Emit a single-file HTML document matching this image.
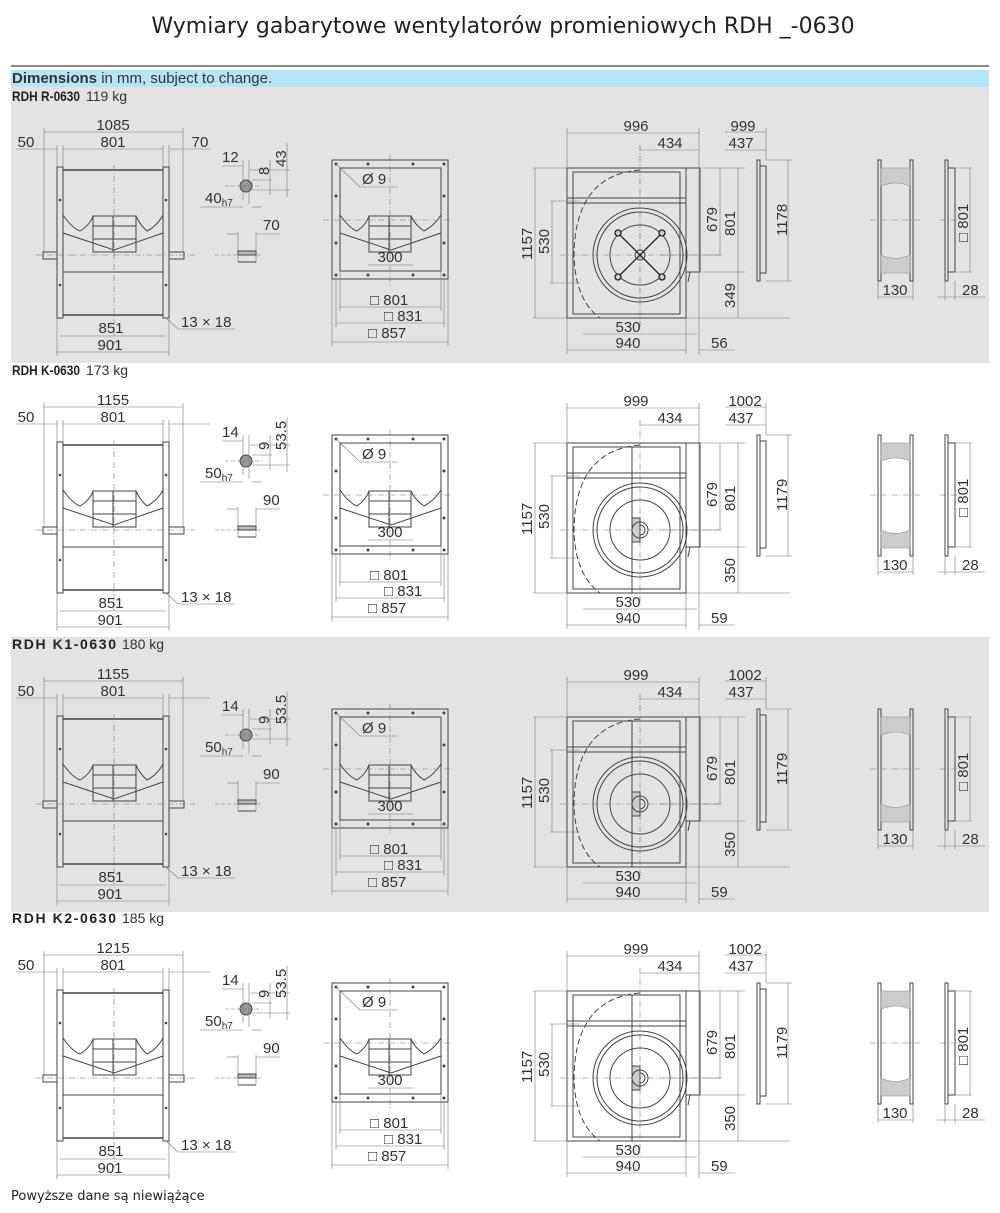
<!DOCTYPE html>
<html><head><meta charset="utf-8"><style>
body{margin:0;background:#fff;width:1000px;height:1213px;overflow:hidden;font-family:"Liberation Sans",sans-serif}
svg{position:absolute;left:0;top:0}
text{font-family:"Liberation Sans",sans-serif;fill:#333;font-size:15px}
.lb{font-size:14px;font-weight:bold;fill:#222}
.wt{font-size:14px}
</style></head><body>
<svg width="1000" height="1213" viewBox="0 0 1000 1213">
<defs>
<g id="dwg" fill="none" stroke="#444" stroke-width="1">
 <rect x="57" y="167" width="6" height="151"/>
 <rect x="163" y="167" width="6" height="151"/>
 <line x1="63" y1="170" x2="163" y2="170" stroke-width="1.5"/>
 <line x1="63" y1="315" x2="163" y2="315" stroke-width="1.5"/>
 <line x1="63" y1="272" x2="163" y2="272"/>
 <rect x="43" y="252" width="14" height="7"/>
 <rect x="169" y="252" width="15" height="7"/>
 <path d="M63 215 Q72 228 80 231 Q90 225 93 216 L136 216 Q140 225 147 231 Q157 226 163 215"/>
 <path d="M63 233 L114 250 L163 233"/>
 <rect x="93" y="216" width="20" height="36"/><rect x="113" y="216" width="23" height="36"/>
 <line x1="93" y1="226" x2="136" y2="226"/><line x1="93" y1="239" x2="136" y2="239"/>
 <g stroke="#777" stroke-width="0.6">
  <line x1="114" y1="165" x2="114" y2="345" stroke-dasharray="6,2,1,2"/>
  <line x1="36" y1="255" x2="195" y2="255" stroke-dasharray="6,2,1,2"/>
  <line x1="44" y1="132" x2="183" y2="132"/><line x1="44" y1="128" x2="44" y2="252"/><line x1="183" y1="128" x2="183" y2="252"/>
  <line x1="63" y1="149" x2="163" y2="149"/><line x1="63" y1="145" x2="63" y2="167"/><line x1="163" y1="145" x2="163" y2="167"/>
  <line x1="16" y1="149" x2="57" y2="149"/><line x1="57" y1="145" x2="57" y2="167"/>
  <line x1="169" y1="149" x2="210" y2="149"/><line x1="169" y1="145" x2="169" y2="167"/>
  <line x1="60" y1="336" x2="166" y2="336"/><line x1="57" y1="352" x2="169" y2="352"/>
  <line x1="57" y1="318" x2="57" y2="356"/><line x1="169" y1="318" x2="169" y2="356"/>
  <polyline points="166,318 178,329 235,329"/>
 </g>
 <circle cx="246" cy="186" r="6" fill="#999"/>
 <g stroke="#777" stroke-width="0.6">
  <line x1="225" y1="186" x2="262" y2="186" stroke-dasharray="4,2"/>
  <line x1="222" y1="166" x2="243" y2="166"/><line x1="243" y1="160" x2="243" y2="200"/><line x1="249" y1="160" x2="249" y2="204"/>
  <line x1="252" y1="180" x2="272" y2="180"/><line x1="252" y1="190" x2="290" y2="190"/><line x1="250" y1="170" x2="290" y2="170"/>
  <line x1="270" y1="160" x2="270" y2="195"/><line x1="287" y1="143" x2="287" y2="197"/>
  <line x1="200" y1="207" x2="243" y2="207"/><line x1="252" y1="207" x2="262" y2="207"/>
  <line x1="238" y1="232" x2="238" y2="262"/><line x1="256" y1="232" x2="256" y2="262"/>
  <line x1="227" y1="234" x2="238" y2="234"/><line x1="256" y1="234" x2="280" y2="234"/>
  <line x1="215" y1="255" x2="262" y2="255" stroke-dasharray="4,2"/>
 </g>
 <rect x="238" y="251" width="18" height="4" fill="#bbb"/><line x1="238" y1="262" x2="256" y2="262"/>
 <rect x="332" y="160" width="116" height="119"/>
 <rect x="340" y="168" width="101" height="103"/>
 <path d="M340 215 Q349 228 357 231 Q366 225 369 216 L411 216 Q415 225 424 231 Q434 226 441 215"/>
 <path d="M340 233 L391 250 L441 233"/>
 <rect x="369" y="216" width="20" height="36"/><rect x="389" y="216" width="22" height="36"/>
 <line x1="369" y1="226" x2="411" y2="226"/><line x1="369" y1="239" x2="411" y2="239"/>
 <g fill="#444" stroke="none">
  <circle cx="336" cy="164" r="1.5"/><circle cx="368" cy="164" r="1.5"/><circle cx="413" cy="164" r="1.5"/><circle cx="444" cy="164" r="1.5"/>
  <circle cx="336" cy="275" r="1.5"/><circle cx="368" cy="275" r="1.5"/><circle cx="413" cy="275" r="1.5"/><circle cx="444" cy="275" r="1.5"/>
  <circle cx="336" cy="196" r="1.5"/><circle cx="336" cy="243" r="1.5"/><circle cx="444" cy="196" r="1.5"/><circle cx="444" cy="243" r="1.5"/>
  <circle cx="60" cy="200" r="1.3"/><circle cx="60" cy="285" r="1.3"/><circle cx="166" cy="200" r="1.3"/><circle cx="166" cy="285" r="1.3"/>
 </g>
 <g stroke="#777" stroke-width="0.6">
  <line x1="390" y1="155" x2="390" y2="285" stroke-dasharray="6,2,1,2"/>
  <line x1="323" y1="220" x2="452" y2="220" stroke-dasharray="6,2,1,2"/>
  <polyline points="336,164 360,187 398,187"/>
  <line x1="368" y1="265" x2="413" y2="265"/>
  <line x1="340" y1="307" x2="441" y2="307"/><line x1="336" y1="323" x2="444" y2="323"/><line x1="332" y1="342" x2="448" y2="342"/>
  <line x1="332" y1="279" x2="332" y2="346"/><line x1="448" y1="279" x2="448" y2="346"/>
  <line x1="340" y1="271" x2="340" y2="311"/><line x1="441" y1="271" x2="441" y2="311"/>
  <line x1="336" y1="279" x2="336" y2="327"/><line x1="444" y1="279" x2="444" y2="327"/>
 </g>
 <rect x="567" y="168" width="119" height="150"/>
 <rect x="573" y="172" width="107" height="142"/>
 <rect x="686" y="168" width="14" height="104"/>
 <line x1="567" y1="198" x2="686" y2="198"/><line x1="567" y1="203" x2="686" y2="203"/>
 <path d="M686 272 L690 272 L688 282" />
 <path d="M640 170 Q575 175 574 255 Q575 300 600 318" stroke-dasharray="6,3"/>
 <circle cx="640" cy="255" r="47"/><circle cx="640" cy="255" r="43"/><circle cx="640" cy="255" r="30"/>
 <circle cx="640" cy="255" r="5"/>
 <g stroke="#777" stroke-width="0.6">
  <line x1="640" y1="145" x2="640" y2="330" stroke-dasharray="6,2,1,2"/>
  <line x1="560" y1="255" x2="720" y2="255" stroke-dasharray="6,2,1,2"/>
  <line x1="567" y1="133" x2="699" y2="133"/><line x1="640" y1="150" x2="699" y2="150"/>
  <line x1="567" y1="128" x2="567" y2="168"/><line x1="699" y1="128" x2="699" y2="355"/>
  <line x1="533" y1="168" x2="567" y2="168"/><line x1="533" y1="318" x2="567" y2="318"/><line x1="535" y1="168" x2="535" y2="318"/>
  <line x1="550" y1="201" x2="580" y2="201"/><line x1="550" y1="283" x2="580" y2="283"/><line x1="552" y1="201" x2="552" y2="283"/>
  <line x1="700" y1="168" x2="745" y2="168"/><line x1="660" y1="255" x2="722" y2="255"/><line x1="700" y1="272" x2="745" y2="272"/>
  <line x1="720" y1="168" x2="720" y2="255"/><line x1="738" y1="168" x2="738" y2="318"/>
  <line x1="686" y1="318" x2="790" y2="318"/>
  <line x1="583" y1="334" x2="697" y2="334"/><line x1="567" y1="350" x2="686" y2="350"/>
  <line x1="567" y1="318" x2="567" y2="354"/><line x1="686" y1="318" x2="686" y2="354"/>
  <line x1="699" y1="350" x2="735" y2="350"/>
  <line x1="725" y1="132" x2="766" y2="132"/><line x1="725" y1="150" x2="766" y2="150"/><line x1="766" y1="128" x2="766" y2="160"/>
  <line x1="766" y1="160" x2="792" y2="160"/><line x1="766" y1="281" x2="792" y2="281"/><line x1="788" y1="160" x2="788" y2="281"/>
 </g>
 <rect x="757" y="160" width="3" height="121"/><rect x="760" y="166" width="6" height="107"/>
 <rect x="878" y="160" width="3" height="121"/><rect x="910" y="160" width="3" height="121"/>
 <path d="M881 168 L910 168 L910 186 Q895 180 881 186Z M881 273 L910 273 L910 255 Q895 262 881 255Z" fill="#ccc" stroke="#888" stroke-width="0.6"/>
 <rect x="945" y="160" width="3" height="121"/><rect x="948" y="168" width="7" height="104"/>
 <g stroke="#777" stroke-width="0.6">
  <line x1="870" y1="220" x2="920" y2="220" stroke-dasharray="6,2,1,2"/>
  <line x1="940" y1="220" x2="962" y2="220" stroke-dasharray="6,2,1,2"/>
  <line x1="878" y1="281" x2="878" y2="300"/><line x1="913" y1="281" x2="913" y2="300"/><line x1="878" y1="297" x2="913" y2="297"/>
  <line x1="955" y1="168" x2="972" y2="168"/><line x1="955" y1="272" x2="972" y2="272"/><line x1="970" y1="168" x2="970" y2="272"/>
  <line x1="945" y1="281" x2="945" y2="300"/><line x1="955" y1="281" x2="955" y2="300"/><line x1="937" y1="297" x2="985" y2="297"/>
 </g>
</g>
<g id="cross" stroke="#222" stroke-width="1.3" fill="#ccc">
 <line x1="618" y1="233" x2="662" y2="277"/><line x1="662" y1="233" x2="618" y2="277"/>
 <circle cx="618" cy="233" r="3"/><circle cx="662" cy="233" r="3"/><circle cx="618" cy="277" r="3"/><circle cx="662" cy="277" r="3"/>
</g>
<g id="hub" stroke="#444" stroke-width="1" fill="none">
 <line x1="632" y1="172" x2="632" y2="318"/>
 <rect x="632" y="243" width="8" height="24" fill="#ccc"/>
 <circle cx="640" cy="255" r="8"/>
</g>
</defs>

<text x="503" y="33" text-anchor="middle" style="font-family:'DejaVu Sans',sans-serif;font-size:22px;fill:#222">Wymiary gabarytowe wentylatorów promieniowych RDH _-0630</text>
<line x1="11" y1="66" x2="989" y2="66" stroke="#444" stroke-width="1.3"/>
<rect x="11" y="70" width="978" height="17" fill="#b5e6f7"/>
<rect x="11" y="87" width="978" height="276" fill="#e3e3e3"/>
<rect x="11" y="637" width="978" height="275" fill="#e3e3e3"/>
<text x="12" y="83"><tspan font-weight="bold">Dimensions</tspan> in mm, subject to change.</text>

<g>
<text x="12" y="101" class="lb" textLength="68" lengthAdjust="spacingAndGlyphs">RDH R-0630</text><text x="86" y="101" class="wt">119 kg</text>
<use href="#dwg"/><use href="#cross"/>
<text x="113" y="130" text-anchor="middle">1085</text><text x="113" y="147" text-anchor="middle">801</text>
<text x="26" y="147" text-anchor="middle">50</text><text x="200" y="147" text-anchor="middle">70</text>
<text x="111" y="333" text-anchor="middle">851</text><text x="110" y="350" text-anchor="middle">901</text>
<text x="181" y="327">13 × 18</text>
<text x="222" y="162">12</text><text x="205" y="203">40<tspan font-size="10" dy="3">h7</tspan></text>
<text x="263" y="230">70</text>
<text transform="translate(269,175) rotate(-90)">8</text><text transform="translate(286,167) rotate(-90)">43</text>
<text x="362" y="184">Ø 9</text><text x="390" y="262" text-anchor="middle">300</text>
<text x="370" y="305">□ 801</text><text x="384" y="321">□ 831</text><text x="368" y="338">□ 857</text>
<text x="636" y="131" text-anchor="middle">996</text><text x="670" y="148" text-anchor="middle">434</text>
<text x="743" y="131" text-anchor="middle">999</text><text x="741" y="148" text-anchor="middle">437</text>
<text transform="translate(532,260) rotate(-90)">1157</text><text transform="translate(549,254) rotate(-90)">530</text>
<text transform="translate(717,232) rotate(-90)">679</text><text transform="translate(735,236) rotate(-90)">801</text>
<text transform="translate(735,308) rotate(-90)">349</text><text transform="translate(787,236) rotate(-90)">1178</text>
<text x="628" y="332" text-anchor="middle">530</text><text x="628" y="348" text-anchor="middle">940</text>
<text x="711" y="348">56</text>
<text x="895" y="295" text-anchor="middle">130</text><text x="962" y="295">28</text>
<text transform="translate(968,242) rotate(-90)">□ 801</text>
</g>

<g transform="translate(0,275)">
<text x="12" y="100" class="lb" textLength="68" lengthAdjust="spacingAndGlyphs">RDH K-0630</text><text x="86" y="100" class="wt">173 kg</text>
<use href="#dwg"/><use href="#hub"/>
<text x="113" y="130" text-anchor="middle">1155</text><text x="113" y="147" text-anchor="middle">801</text>
<text x="26" y="147" text-anchor="middle">50</text>
<text x="111" y="333" text-anchor="middle">851</text><text x="110" y="350" text-anchor="middle">901</text>
<text x="181" y="327">13 × 18</text>
<text x="222" y="162">14</text><text x="205" y="203">50<tspan font-size="10" dy="3">h7</tspan></text>
<text x="263" y="230">90</text>
<text transform="translate(269,175) rotate(-90)">9</text><text transform="translate(286,175) rotate(-90)">53.5</text>
<text x="362" y="184">Ø 9</text><text x="390" y="262" text-anchor="middle">300</text>
<text x="370" y="305">□ 801</text><text x="384" y="321">□ 831</text><text x="368" y="338">□ 857</text>
<text x="636" y="131" text-anchor="middle">999</text><text x="670" y="148" text-anchor="middle">434</text>
<text x="745" y="131" text-anchor="middle">1002</text><text x="741" y="148" text-anchor="middle">437</text>
<text transform="translate(532,260) rotate(-90)">1157</text><text transform="translate(549,254) rotate(-90)">530</text>
<text transform="translate(717,232) rotate(-90)">679</text><text transform="translate(735,236) rotate(-90)">801</text>
<text transform="translate(735,308) rotate(-90)">350</text><text transform="translate(787,236) rotate(-90)">1179</text>
<text x="628" y="332" text-anchor="middle">530</text><text x="628" y="348" text-anchor="middle">940</text>
<text x="711" y="348">59</text>
<text x="895" y="295" text-anchor="middle">130</text><text x="962" y="295">28</text>
<text transform="translate(968,242) rotate(-90)">□ 801</text>
</g>

<g transform="translate(0,549)">
<text x="12" y="100" class="lb" textLength="104" lengthAdjust="spacing">RDH K1-0630</text><text x="122" y="100" class="wt">180 kg</text>
<use href="#dwg"/><use href="#hub"/>
<text x="113" y="130" text-anchor="middle">1155</text><text x="113" y="147" text-anchor="middle">801</text>
<text x="26" y="147" text-anchor="middle">50</text>
<text x="111" y="333" text-anchor="middle">851</text><text x="110" y="350" text-anchor="middle">901</text>
<text x="181" y="327">13 × 18</text>
<text x="222" y="162">14</text><text x="205" y="203">50<tspan font-size="10" dy="3">h7</tspan></text>
<text x="263" y="230">90</text>
<text transform="translate(269,175) rotate(-90)">9</text><text transform="translate(286,175) rotate(-90)">53.5</text>
<text x="362" y="184">Ø 9</text><text x="390" y="262" text-anchor="middle">300</text>
<text x="370" y="305">□ 801</text><text x="384" y="321">□ 831</text><text x="368" y="338">□ 857</text>
<text x="636" y="131" text-anchor="middle">999</text><text x="670" y="148" text-anchor="middle">434</text>
<text x="745" y="131" text-anchor="middle">1002</text><text x="741" y="148" text-anchor="middle">437</text>
<text transform="translate(532,260) rotate(-90)">1157</text><text transform="translate(549,254) rotate(-90)">530</text>
<text transform="translate(717,232) rotate(-90)">679</text><text transform="translate(735,236) rotate(-90)">801</text>
<text transform="translate(735,308) rotate(-90)">350</text><text transform="translate(787,236) rotate(-90)">1179</text>
<text x="628" y="332" text-anchor="middle">530</text><text x="628" y="348" text-anchor="middle">940</text>
<text x="711" y="348">59</text>
<text x="895" y="295" text-anchor="middle">130</text><text x="962" y="295">28</text>
<text transform="translate(968,242) rotate(-90)">□ 801</text>
</g>

<g transform="translate(0,823)">
<text x="12" y="100" class="lb" textLength="104" lengthAdjust="spacing">RDH K2-0630</text><text x="122" y="100" class="wt">185 kg</text>
<use href="#dwg"/><use href="#hub"/>
<text x="113" y="130" text-anchor="middle">1215</text><text x="113" y="147" text-anchor="middle">801</text>
<text x="26" y="147" text-anchor="middle">50</text>
<text x="111" y="333" text-anchor="middle">851</text><text x="110" y="350" text-anchor="middle">901</text>
<text x="181" y="327">13 × 18</text>
<text x="222" y="162">14</text><text x="205" y="203">50<tspan font-size="10" dy="3">h7</tspan></text>
<text x="263" y="230">90</text>
<text transform="translate(269,175) rotate(-90)">9</text><text transform="translate(286,175) rotate(-90)">53.5</text>
<text x="362" y="184">Ø 9</text><text x="390" y="262" text-anchor="middle">300</text>
<text x="370" y="305">□ 801</text><text x="384" y="321">□ 831</text><text x="368" y="338">□ 857</text>
<text x="636" y="131" text-anchor="middle">999</text><text x="670" y="148" text-anchor="middle">434</text>
<text x="745" y="131" text-anchor="middle">1002</text><text x="741" y="148" text-anchor="middle">437</text>
<text transform="translate(532,260) rotate(-90)">1157</text><text transform="translate(549,254) rotate(-90)">530</text>
<text transform="translate(717,232) rotate(-90)">679</text><text transform="translate(735,236) rotate(-90)">801</text>
<text transform="translate(735,308) rotate(-90)">350</text><text transform="translate(787,236) rotate(-90)">1179</text>
<text x="628" y="332" text-anchor="middle">530</text><text x="628" y="348" text-anchor="middle">940</text>
<text x="711" y="348">59</text>
<text x="895" y="295" text-anchor="middle">130</text><text x="962" y="295">28</text>
<text transform="translate(968,242) rotate(-90)">□ 801</text>
</g>

<text x="11" y="1200" style="font-family:'DejaVu Sans',sans-serif;font-size:13px;fill:#222">Powyższe dane są niewiążące</text>
</svg>
</body></html>
